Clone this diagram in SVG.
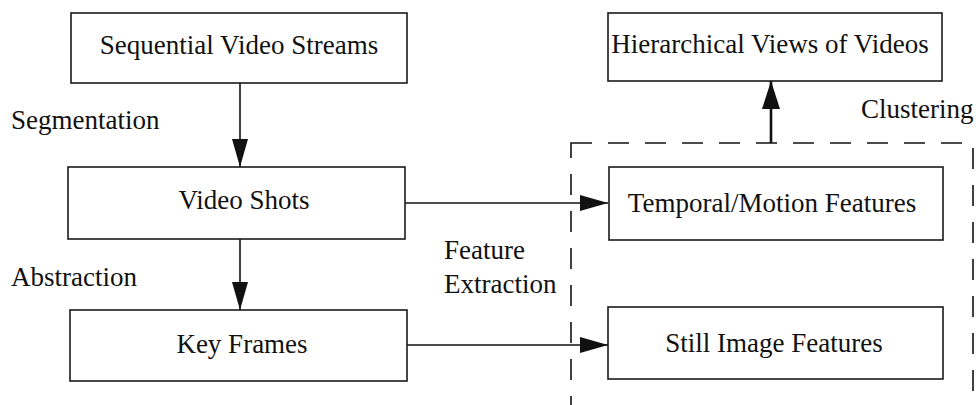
<svg xmlns="http://www.w3.org/2000/svg" width="976" height="405" viewBox="0 0 976 405">
  <style>
    .box { fill: #ffffff; stroke: #1a1a1a; stroke-width: 1.6; }
    .lbl { font-family: "Liberation Serif", "Times New Roman", serif; font-size: 27px; fill: #111111; }
    .mid { text-anchor: middle; }
    .wire { fill: none; stroke: #111111; stroke-width: 1.6; }
    .thick { fill: none; stroke: #111111; stroke-width: 2.6; }
    .dash { fill: none; stroke: #111111; stroke-width: 1.6; stroke-dasharray: 21 16; }
  </style>
  <defs>
    <marker id="head" viewBox="0 0 28 16" refX="28" refY="8" markerWidth="28" markerHeight="16" markerUnits="userSpaceOnUse" orient="auto">
      <path d="M0,0 L28,8 L0,16 Z" fill="#111111"/>
    </marker>
    <marker id="headBig" viewBox="0 0 28 18" refX="28" refY="9" markerWidth="28" markerHeight="18" markerUnits="userSpaceOnUse" orient="auto">
      <path d="M0,0 L28,9 L0,18 Z" fill="#111111"/>
    </marker>
  </defs>

  <!-- feature group outline -->
  <rect class="dash" x="571" y="143" width="402" height="290"/>

  <g id="connectors">
    <line class="wire" x1="240" y1="83" x2="240" y2="167" marker-end="url(#head)"/>
    <line class="wire" x1="240" y1="239" x2="240" y2="310" marker-end="url(#head)"/>
    <line class="wire" x1="405" y1="203" x2="608" y2="203" marker-end="url(#head)"/>
    <line class="wire" x1="407" y1="345" x2="608" y2="345" marker-end="url(#head)"/>
    <line class="thick" x1="771" y1="143" x2="771" y2="81" marker-end="url(#headBig)"/>
  </g>

  <g id="sequential-video-streams">
    <rect class="box" x="71" y="13" width="336" height="70"/>
    <text class="lbl mid" x="239" y="54">Sequential Video Streams</text>
  </g>
  <g id="video-shots">
    <rect class="box" x="68" y="167" width="337" height="72"/>
    <text class="lbl mid" x="244" y="209">Video Shots</text>
  </g>
  <g id="key-frames">
    <rect class="box" x="70" y="310" width="337" height="71"/>
    <text class="lbl mid" x="242" y="353">Key Frames</text>
  </g>
  <g id="hierarchical-views">
    <rect class="box" x="608" y="13" width="334" height="68"/>
    <text class="lbl mid" x="770" y="53">Hierarchical Views of Videos</text>
  </g>
  <g id="temporal-motion-features">
    <rect class="box" x="609" y="167" width="334" height="73"/>
    <text class="lbl mid" x="772" y="212">Temporal/Motion Features</text>
  </g>
  <g id="still-image-features">
    <rect class="box" x="608" y="307" width="335" height="72"/>
    <text class="lbl mid" x="774" y="352">Still Image Features</text>
  </g>

  <g id="edge-labels">
    <text class="lbl" x="11" y="129">Segmentation</text>
    <text class="lbl" x="11" y="286">Abstraction</text>
    <text class="lbl" x="444" y="259">Feature</text>
    <text class="lbl" x="444" y="293">Extraction</text>
    <text class="lbl" x="861" y="118">Clustering</text>
  </g>
</svg>
